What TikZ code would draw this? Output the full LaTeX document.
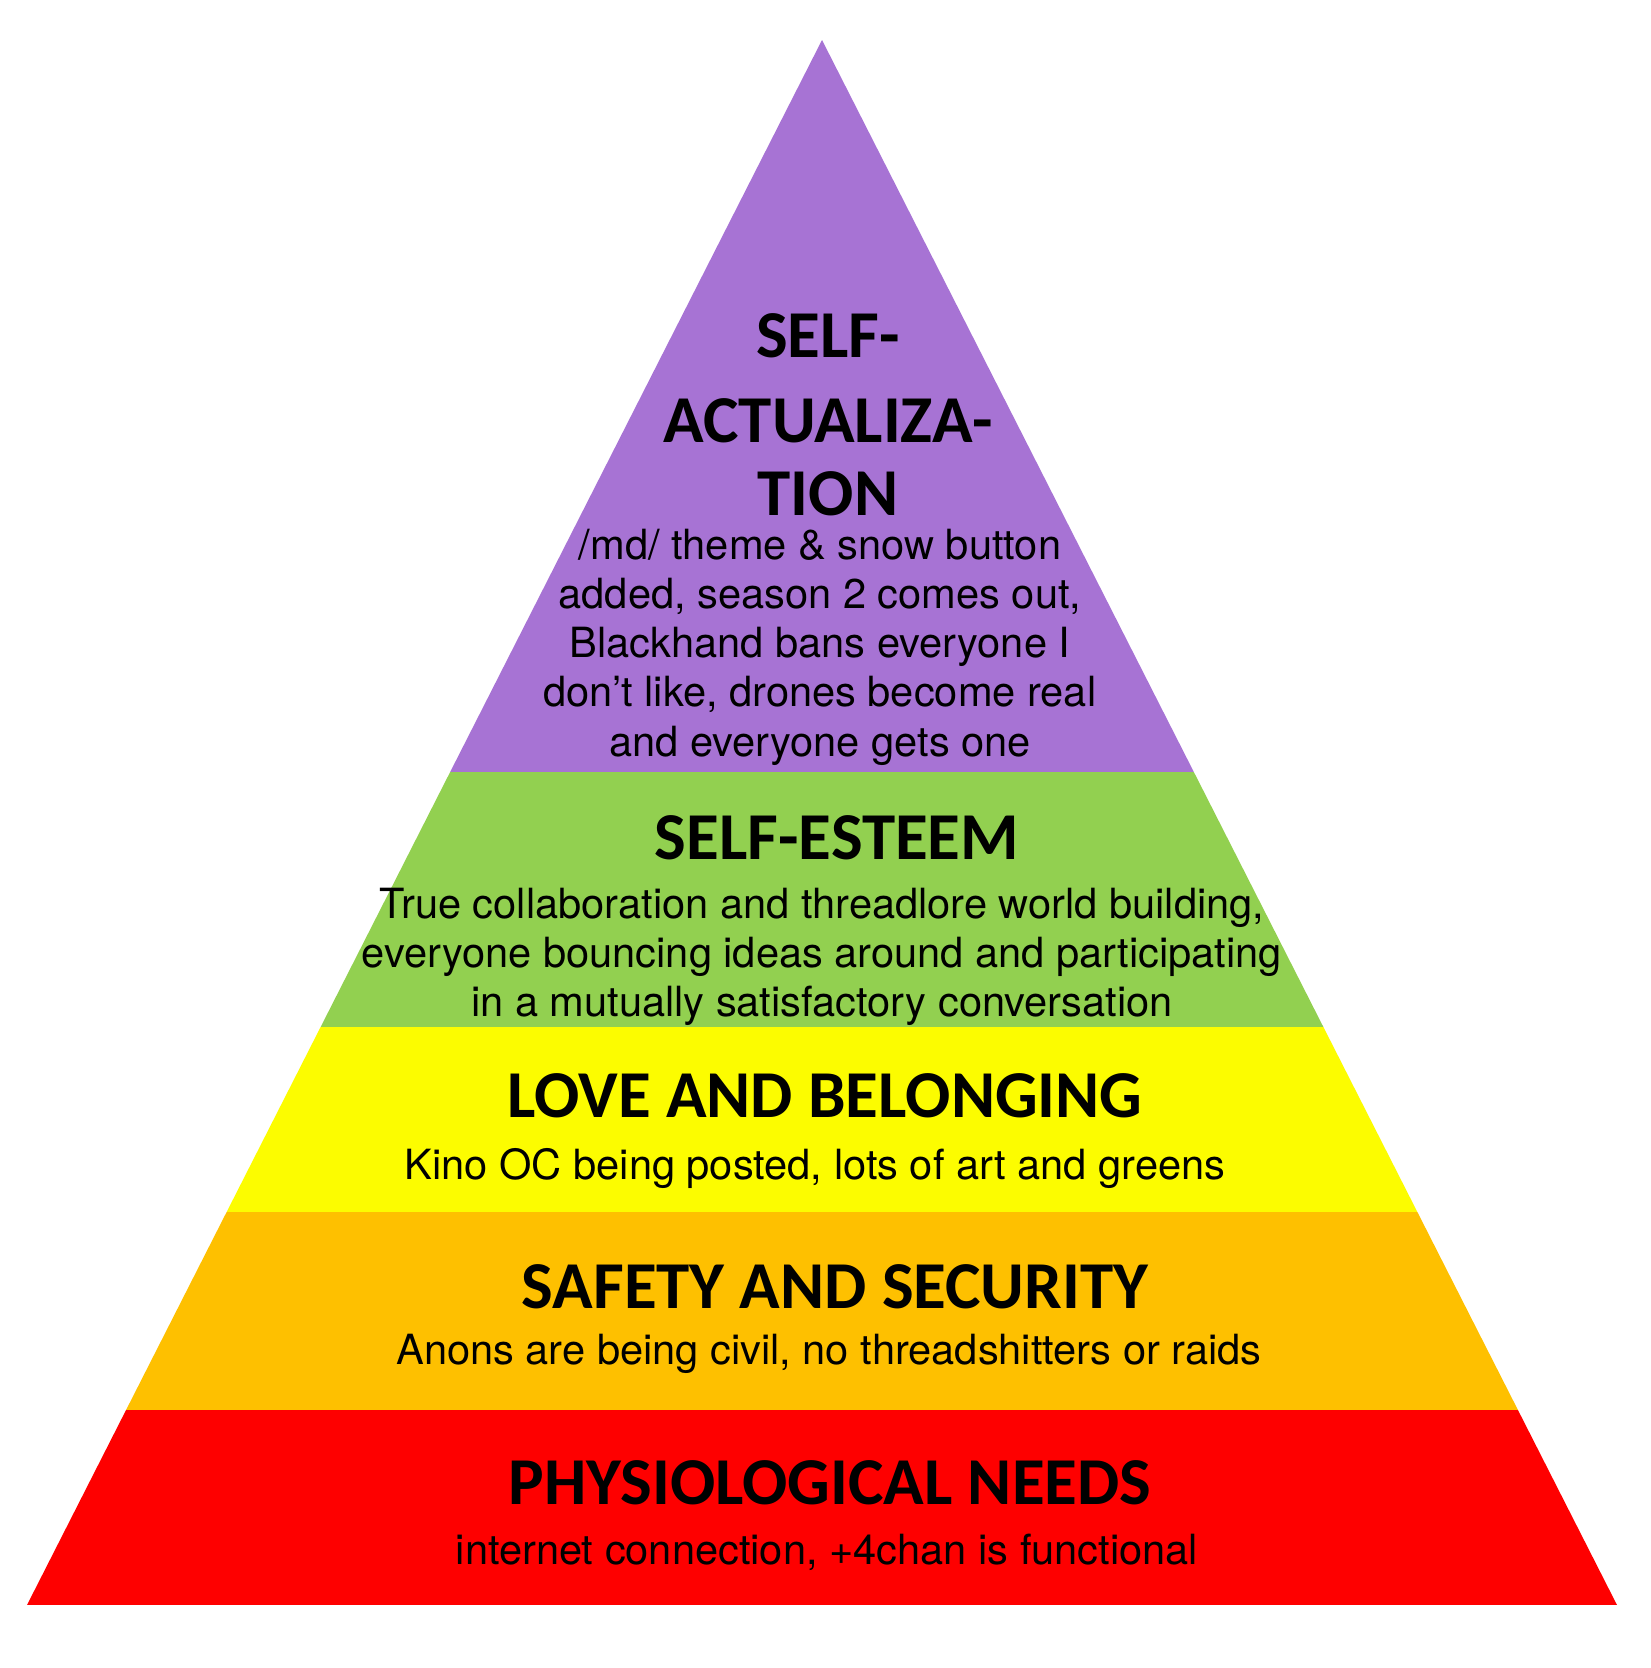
\documentclass[tikz,border=0pt]{standalone}
\usepackage{fontspec}
\setmainfont{TeX Gyre Heros}
\newfontfamily\headfont{Carlito}
\definecolor{cpurple}{RGB}{167,115,212}
\definecolor{cgreen}{RGB}{146,208,80}
\definecolor{cyellow}{RGB}{252,252,0}
\definecolor{corange}{RGB}{254,192,0}
\definecolor{cred}{RGB}{254,0,0}
\tikzset{
  head/.style={inner sep=0pt, anchor=center, font=\headfont\bfseries\fontsize{67}{72}\selectfont},
  body/.style={inner sep=0pt, anchor=center, align=center, font=\fontsize{41.6}{49.2}\selectfont},
}
\begin{document}
\begin{tikzpicture}[x=1pt,y=-1pt]
\useasboundingbox (0,0) rectangle (1650,1668);
\fill[white] (0,0) rectangle (1650,1668);
\coordinate (apex) at (822,40);
\coordinate (bl) at (27,1605);
\coordinate (br) at (1617,1605);
\begin{scope}
  \clip (apex) -- (bl) -- (br) -- cycle;
  \fill[cpurple] (0,0) rectangle (1650,772);
  \fill[cgreen] (0,772) rectangle (1650,1027);
  \fill[cyellow] (0,1027) rectangle (1650,1212);
  \fill[corange] (0,1212) rectangle (1650,1410);
  \fill[cred] (0,1410) rectangle (1650,1605);
\end{scope}
\node[head] (sa1) at (828,336) {SELF-};
\node[head] (sa2) at (828,421) {ACTUALIZA-};
\node[head] (sa3) at (828,494) {TION};
\node[body] (sab) at (820,647) {/md/ theme \& snow button\\added, season 2 comes out,\\Blackhand bans everyone I\\don’t like, drones become real\\and everyone gets one};
\node[head] (se) at (837,838) {SELF-ESTEEM};
\node[body] (seb) at (822,957) {True collaboration and threadlore world building,\\everyone bouncing ideas around and participating\\in a mutually satisfactory conversation};
\node[head] (lb) at (825,1096) {LOVE AND BELONGING};
\node[body] (lbb) at (815,1168) {Kino OC being posted, lots of art and greens};
\node[head] (ss) at (835,1287) {SAFETY AND SECURITY};
\node[body] (ssb) at (829,1354) {Anons are being civil, no threadshitters or raids};
\node[head] (pn) at (830,1483) {PHYSIOLOGICAL NEEDS};
\node[body] (pnb) at (827,1552) {internet connection, +4chan is functional};
\end{tikzpicture}
\end{document}
